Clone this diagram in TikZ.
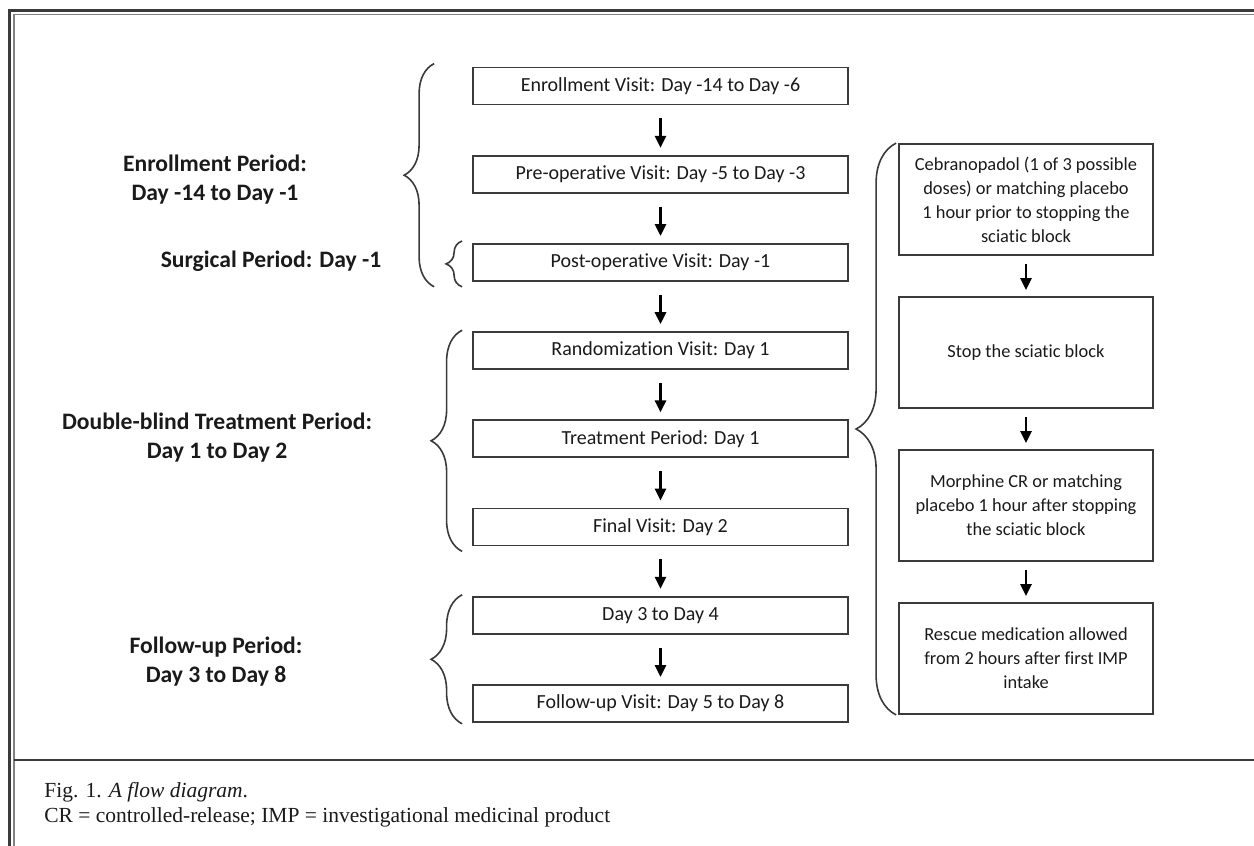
\documentclass[tikz,border=0pt]{standalone}
\usepackage{fontspec}
\setmainfont{Carlito}[Ligatures=NoCommon]
\newfontfamily\capfont{Liberation Serif}
\usetikzlibrary{arrows.meta,positioning,calc,decorations.pathreplacing}
\definecolor{cLine}{HTML}{3a3a3a}
\definecolor{cText}{HTML}{1a1a1a}
\tikzset{
  visit/.style={draw=cLine,line width=0.9pt,minimum width=187.5pt,
               minimum height=18.5pt,inner sep=2pt,text=cText,
               font=\fontsize{10}{12}\selectfont},
  dose/.style={draw=cLine,line width=0.9pt,minimum width=127pt,
               minimum height=55.5pt,align=center,inner sep=2pt,text=cText,
               font=\fontsize{9.2}{12}\selectfont},
  flow/.style={-{Triangle[length=6pt,width=5.5pt]},line width=1.4pt,black},
  period/.style={font=\bfseries\fontsize{11.8}{14.5}\selectfont,align=center,
               text=cText},
  curly/.style={decorate,decoration={brace,amplitude=#1},line width=0.8pt,
               cLine},
}

\begin{document}
\begin{tikzpicture}[x=0.5pt,y=-0.5pt]
  \useasboundingbox (0,0) rectangle (1254,846);
  % frame
  \draw[line width=1.5pt,cLine] (9.5,846) -- (9.5,10.5) -- (1254,10.5);
  \draw[line width=0.6pt,gray] (14,846) -- (14,14.5) -- (1254,14.5);
  \draw[line width=1pt,cLine] (14,760) -- (1254,760);

  % visits
  \node[visit] (v1) at (660.5,86) {Enrollment Visit: Day -14 to Day -6};
  \node[visit,below=24.7pt of v1] (v2) {Pre-operative Visit: Day -5 to Day -3};
  \node[visit,below=24.7pt of v2] (v3) {Post-operative Visit: Day -1};
  \node[visit,below=24.7pt of v3] (v4) {Randomization Visit: Day 1};
  \node[visit,below=24.7pt of v4] (v5) {Treatment Period: Day 1};
  \node[visit,below=24.7pt of v5] (v6) {Final Visit: Day 2};
  \node[visit,below=24.7pt of v6] (v7) {Day 3 to Day 4};
  \node[visit,below=24.7pt of v7] (v8) {Follow-up Visit: Day 5 to Day 8};
  \foreach \a/\b in {v1/v2,v2/v3,v3/v4,v4/v5,v5/v6,v6/v7,v7/v8}
    \draw[flow,shorten <=6.5pt,shorten >=3.5pt] (\a) -- (\b);

  % treatment day
  \node[dose] (d1) at (1026,199.5) {Cebranopadol (1 of 3 possible\\doses) or matching placebo\\1 hour prior to stopping the\\sciatic block};
  \node[dose,below=20.1pt of d1] (d2) {Stop the sciatic block};
  \node[dose,below=20.1pt of d2] (d3) {Morphine CR or matching\\placebo 1 hour after stopping\\the sciatic block};
  \node[dose,below=20.1pt of d3] (d4) {Rescue medication allowed\\from 2 hours after first IMP\\intake};
  \foreach \a/\b in {d1/d2,d2/d3,d3/d4}
    \draw[flow,shorten <=4pt,shorten >=3pt] (\a) -- (\b);

  % braces
  \draw[curly=15pt] ([xshift=-19pt,yshift=-2.5pt]v3.south west)
    -- ([xshift=-19pt,yshift=1.5pt]v1.north west);
  \draw[curly=8pt] ([xshift=-5pt,yshift=-2.5pt]v3.south west)
    -- ([xshift=-5pt,yshift=1pt]v3.north west);
  \draw[curly=15.5pt] ([xshift=-5pt,yshift=-2.5pt]v6.south west)
    -- ([xshift=-5pt,yshift=0.5pt]v4.north west);
  \draw[curly=15.5pt] ([xshift=-5pt,yshift=-0.5pt]v8.south west)
    -- ([xshift=-5pt,yshift=0.5pt]v7.north west);
  \draw[curly=20pt] ([xshift=-1pt]d4.south west) -- ([xshift=-1pt]d1.north west);

  % periods
  \node[period] (pEnrol) at (215,180) {Enrollment Period:\\Day -14 to Day -1};
  \node[period] (pSurg) at (271,261) {Surgical Period: Day -1};
  \node[period] (pBlind) at (217,438) {Double-blind Treatment Period:\\Day 1 to Day 2};
  \node[period] (pFollow) at (216,662) {Follow-up Period:\\Day 3 to Day 8};

  % caption
  \node[anchor=north west,align=left,inner sep=0pt,text=cText,
        font=\capfont\fontsize{10.75}{12.5}\selectfont] (cap) at (44,782)
    {Fig. 1. \textit{A flow diagram}.\\CR = controlled-release; IMP = investigational medicinal product};
\end{tikzpicture}
\end{document}
